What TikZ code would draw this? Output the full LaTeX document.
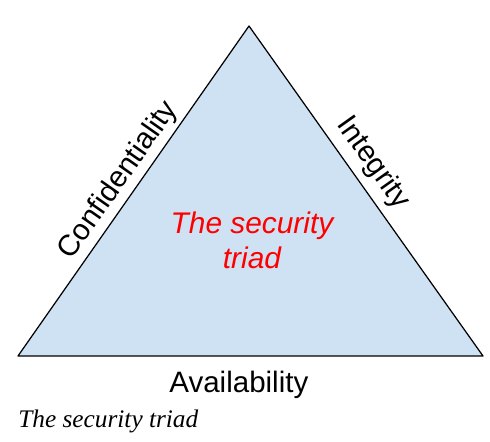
\documentclass[tikz,border=0pt]{standalone}
\usepackage{fontspec}
\setmainfont{Liberation Sans}
\newfontfamily\captionserif{Liberation Serif}
\usepackage{tikz}
\usetikzlibrary{positioning,calc}
\definecolor{TriadBlue}{RGB}{207,226,243}
\definecolor{TriadRed}{RGB}{255,0,0}
\tikzset{
    sidelabel/.style={font=\fontsize{16.8}{20}\selectfont,text=black}
}

\begin{document}
\begin{tikzpicture}
            \useasboundingbox (0,0) rectangle (9.8,8.84);
            \coordinate (apex) at (4.98,8.32);
            \coordinate (baseL) at (0.36,1.72);
            \coordinate (baseR) at (9.66,1.72);
            \filldraw[fill=TriadBlue,draw=black,line width=0.7pt,line join=round] (baseL) -- (apex) -- (baseR) -- cycle;
            \path (baseL) -- (apex) node[sidelabel,pos=0.5,sloped,above=-1pt] (conf) {Confidentiality};
            \path (apex) -- (baseR) node[sidelabel,pos=0.453,sloped,above=1pt] (integ) {Integrity};
            \path (baseL) -- (baseR) node[sidelabel,pos=0.475,below=5pt] (avail) {Availability};
            \node[font=\fontsize{17}{20}\selectfont\itshape,text=TriadRed,align=center] (triad) at (5.04,4.04) {The security\\triad};
            \node[font=\fontsize{14.4}{17}\selectfont\captionserif\itshape,anchor=base west,inner sep=0pt] (caption) at (0.36,0.28) {The security triad};
        \end{tikzpicture}
\end{document}
